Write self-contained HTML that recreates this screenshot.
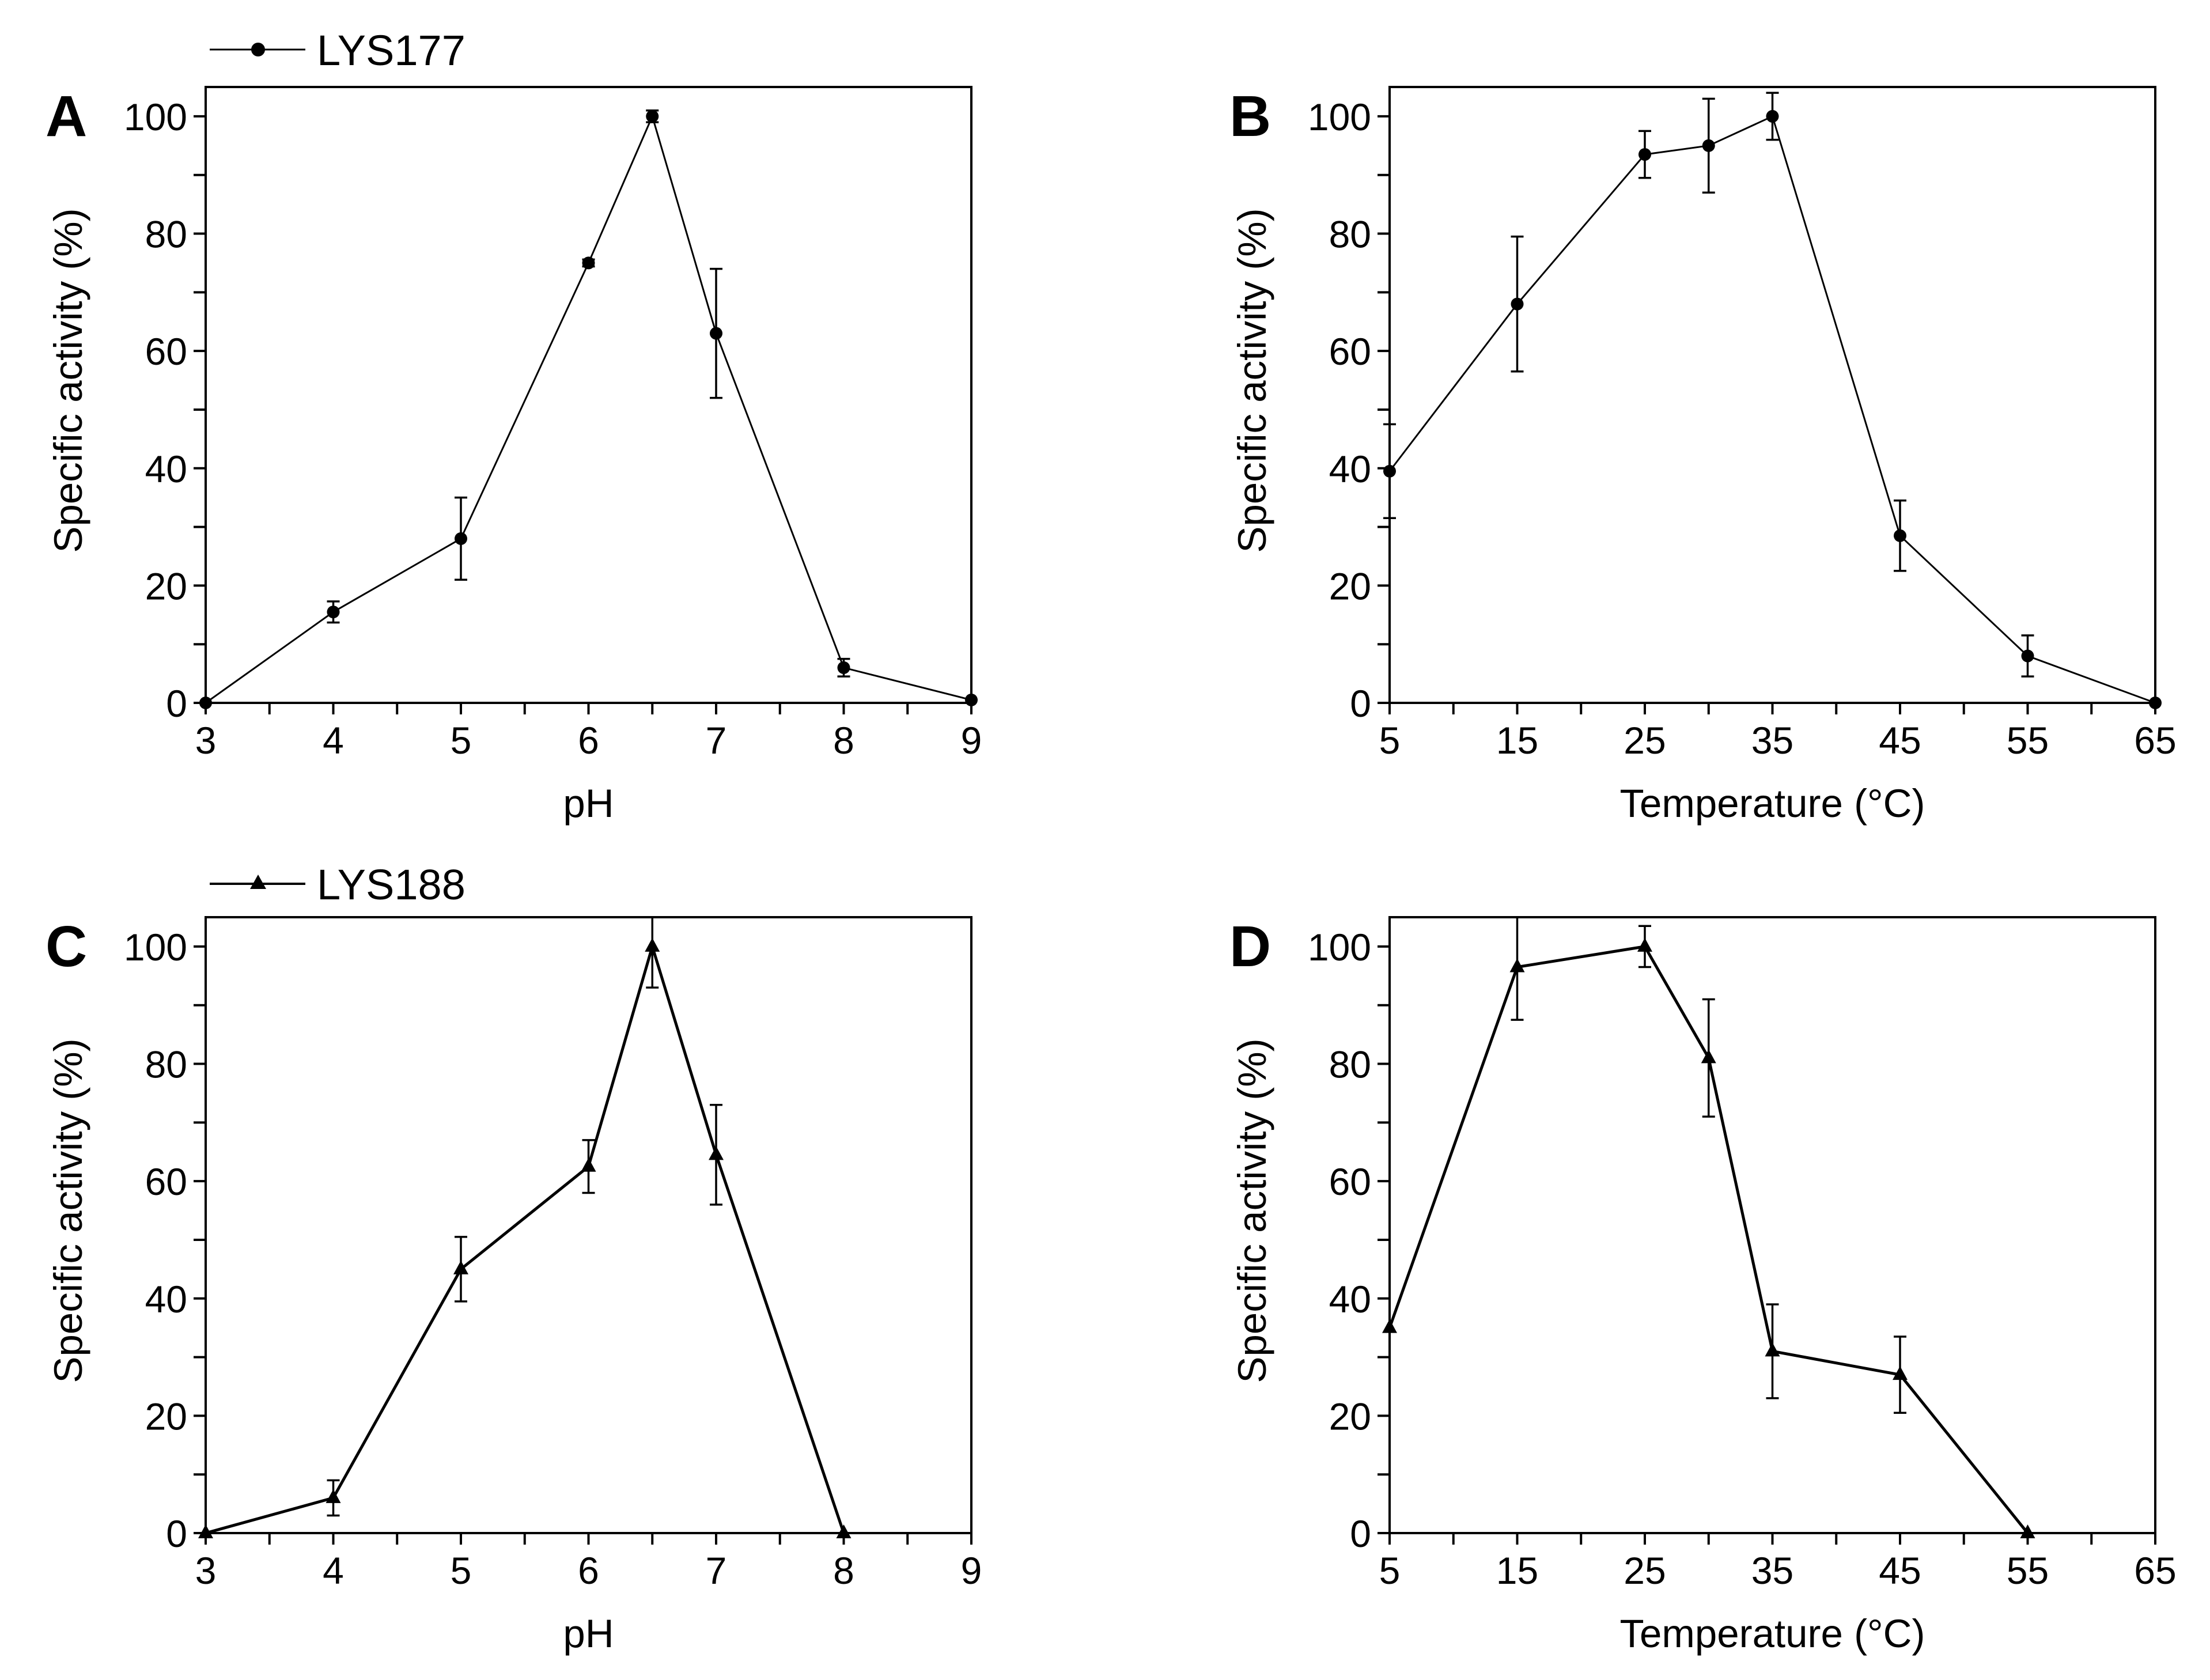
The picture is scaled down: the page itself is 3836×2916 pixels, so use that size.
<!DOCTYPE html>
<html><head><meta charset="utf-8"><style>
html,body{margin:0;padding:0;background:#fff;}
svg{display:block;font-family:"Liberation Sans",Arial,sans-serif;}
</style></head><body>
<svg id="fig" width="3836" height="2916" viewBox="0 0 3836 2916" xmlns="http://www.w3.org/2000/svg">
<rect width="3836" height="2916" fill="#fff"/>
</svg>
<script>
// Panel A: LYS177 pH
const phA = [3,4,5,6,6.5,7,8,9];
const actA = [0,15.5,28,75,100,63,6,0.5];
const errA = [0,1.8,7,0.6,1,11,1.5,0];
// Panel B: LYS177 temperature
const tB = [5,15,25,30,35,45,55,65];
const actB = [39.5,68,93.5,95,100,28.5,8,0];
const errB = [8,11.5,4,8,4,6,3.5,0];
// Panel C: LYS188 pH
const phC = [3,4,5,6,6.5,7,8];
const actC = [0,6,45,62.5,100,64.5,0];
const errC = [0,3,5.5,4.5,7,8.5,0];
// Panel D: LYS188 temperature
const tD = [5,15,25,30,35,45,55];
const actD = [35,96.5,100,81,31,27,0];
const errD = [0,9,3.5,10,8,6.5,0];
// tick labels
const phTicks = [3,4,5,6,7,8,9];
const tempTicks = [5,15,25,35,45,55,65];
const yTicks = [0,20,40,60,80,100];

const NS="http://www.w3.org/2000/svg";
const svg=document.getElementById('fig');
function mk(tag,attrs,parent){const e=document.createElementNS(NS,tag);for(const k in attrs)e.setAttribute(k,attrs[k]);(parent||svg).appendChild(e);return e;}

function panel(o){
  const g=mk('g',{});
  
  
  const X=v=>o.l+(v-o.xmin)/(o.xmax-o.xmin)*(o.r-o.l);
  const Y=v=>o.b-(v/105)*(o.b-o.t);
  const fr=mk('rect',{x:o.l,y:o.t,width:o.r-o.l,height:o.b-o.t,fill:'none',stroke:'#000','stroke-width':4},g);
  
  
  for(let v=0;v<=100;v+=10){
    const tk=mk('line',{x1:o.l-21,x2:o.l,y1:Y(v),y2:Y(v),stroke:'#000','stroke-width':4},g);
    
    
  }
  yTicks.forEach(v=>{
    const t=mk('text',{x:o.l-32,y:Y(v)+24,'font-size':66,'text-anchor':'end'},g);
    t.textContent=v;
    
    
  });
  const step=(o.xmax-o.xmin)/12;
  for(let i=0;i<=12;i++){
    const v=o.xmin+i*step;
    const tk=mk('line',{x1:X(v),x2:X(v),y1:o.b,y2:o.b+20,stroke:'#000','stroke-width':4},g);
    
    
  }
  o.xt.forEach(v=>{
    const t=mk('text',{x:X(v),y:o.b+88,'font-size':66,'text-anchor':'middle'},g);
    t.textContent=v;
    
    
  });
  const xt=mk('text',{x:(o.l+o.r)/2,y:o.b+198,'font-size':69,'text-anchor':'middle'},g);
  xt.textContent=o.xlabel;
  
  
  const cy=(o.t+o.b)/2;
  const yt=mk('text',{x:0,y:0,'font-size':69,'text-anchor':'middle',transform:`translate(${o.l-215},${cy-25}) rotate(-90)`},g);
  yt.textContent='Specific activity (%)';
  
  
  const pl=mk('text',{x:o.l-278,y:Y(100)+34,'font-size':100,'font-weight':'bold'},g);
  pl.textContent=o.letter;
  
  
  const pts=o.xs.map((x,i)=>X(x)+','+Y(o.ys[i])).join(' ');
  const ln=mk('polyline',{points:pts,fill:'none',stroke:'#000','stroke-width':o.lw},g);
  
  
  o.xs.forEach((x,i)=>{
    const e=o.es[i]; if(!e) return;
    const hi=Math.min(o.ys[i]+e,105), lo=o.ys[i]-e;
    const eg=mk('g',{stroke:'#000','stroke-width':3.5},g);
    
    
    mk('line',{x1:X(x),x2:X(x),y1:Y(hi),y2:Y(lo)},eg);
    if(o.ys[i]+e<=105) mk('line',{x1:X(x)-11,x2:X(x)+11,y1:Y(hi),y2:Y(hi)},eg);
    mk('line',{x1:X(x)-11,x2:X(x)+11,y1:Y(lo),y2:Y(lo)},eg);
  });
  o.xs.forEach((x,i)=>{
    const px=X(x),py=Y(o.ys[i]);
    let m;
    if(o.marker==='circle') m=mk('circle',{cx:px,cy:py,r:11,fill:'#000'},g);
    else m=mk('polygon',{points:`${px},${py-15} ${px-13},${py+9} ${px+13},${py+9}`,fill:'#000'},g);
    
    
  });
}
panel({name:'panel-a-ph-lys177',letter:'A',l:357,r:1686,t:151,b:1220,xmin:3,xmax:9,xt:phTicks,xlabel:'pH',xs:phA,ys:actA,es:errA,marker:'circle',lw:3});
panel({name:'panel-b-temp-lys177',letter:'B',l:2412,r:3741,t:151,b:1220,xmin:5,xmax:65,xt:tempTicks,xlabel:'Temperature (°C)',xs:tB,ys:actB,es:errB,marker:'circle',lw:3});
panel({name:'panel-c-ph-lys188',letter:'C',l:357,r:1686,t:1592,b:2661,xmin:3,xmax:9,xt:phTicks,xlabel:'pH',xs:phC,ys:actC,es:errC,marker:'tri',lw:5});
panel({name:'panel-d-temp-lys188',letter:'D',l:2412,r:3741,t:1592,b:2661,xmin:5,xmax:65,xt:tempTicks,xlabel:'Temperature (°C)',xs:tD,ys:actD,es:errD,marker:'tri',lw:5});

function legend(y,label,marker,lw,name){
  const g=mk('g',{});
  
  
  mk('line',{x1:364,x2:530,y1:y,y2:y,stroke:'#000','stroke-width':lw},g);
  if(marker==='circle') mk('circle',{cx:448,cy:y,r:12,fill:'#000'},g);
  else mk('polygon',{points:`448,${y-16} 434,${y+9} 462,${y+9}`,fill:'#000'},g);
  const t=mk('text',{x:550,y:y+27,'font-size':74},g);
  t.textContent=label;
}
legend(86,'LYS177','circle',3,'legend-lys177');
legend(1534,'LYS188','tri',4,'legend-lys188');
</script>
</body></html>
